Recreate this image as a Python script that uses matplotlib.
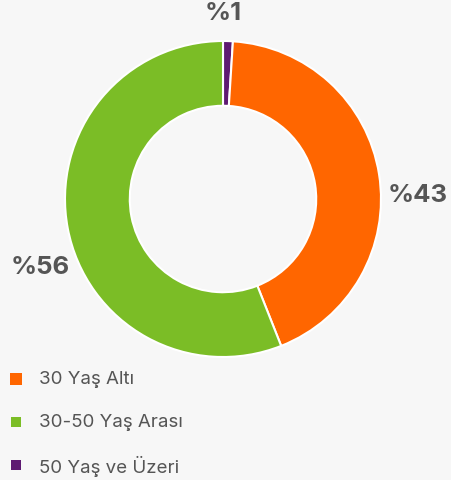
import matplotlib.pyplot as plt

# slice order: clockwise from top
labels = ['50 Yaş ve Üzeri', '30 Yaş Altı', '30-50 Yaş Arası']
values = [1, 43, 56]
colors = ['#5e1a72', '#ff6600', '#7bbd26']
pct_text = ['%1', '%43', '%56']
pct_pos = [(0.0, 1.18), (1.23, 0.03), (-1.16, -0.43)]

legend_order = ['30 Yaş Altı', '30-50 Yaş Arası', '50 Yaş ve Üzeri']
legend_sizes = [80, 55, 45]

bg = '#f7f7f7'
fig = plt.figure(figsize=(4.52, 4.81), dpi=100, facecolor=bg)
ax = fig.add_axes([65 / 452, 123 / 481, 316 / 452, 316 / 481])
ax.set_facecolor(bg)
ax.pie(values, colors=colors, startangle=90, counterclock=False, radius=1,
       wedgeprops=dict(width=0.41, edgecolor='white', linewidth=1.5))
ax.set_xlim(-1, 1)
ax.set_ylim(-1, 1)
ax.set_aspect('equal')
ax.axis('off')
for t, (x, y) in zip(pct_text, pct_pos):
    ax.text(x, y, t, ha='center', va='center', fontsize=18.5, fontweight='bold',
            color='#555555', family='Inter', clip_on=False)

# legend in pixel coordinates
lg = fig.add_axes([0, 0, 1, 1], zorder=-1)
lg.set_xlim(0, 452)
lg.set_ylim(481, 0)
lg.axis('off')
for i, name in enumerate(legend_order):
    y = 380 + i * 43
    c = colors[labels.index(name)]
    lg.scatter([16], [y], s=legend_sizes[i], marker='s', color=c, linewidths=0)
    lg.text(39, y, name, ha='left', va='center', fontsize=13.5,
            color='#555555', family='Inter')

fig.savefig('out.png', dpi=100, facecolor=bg)
